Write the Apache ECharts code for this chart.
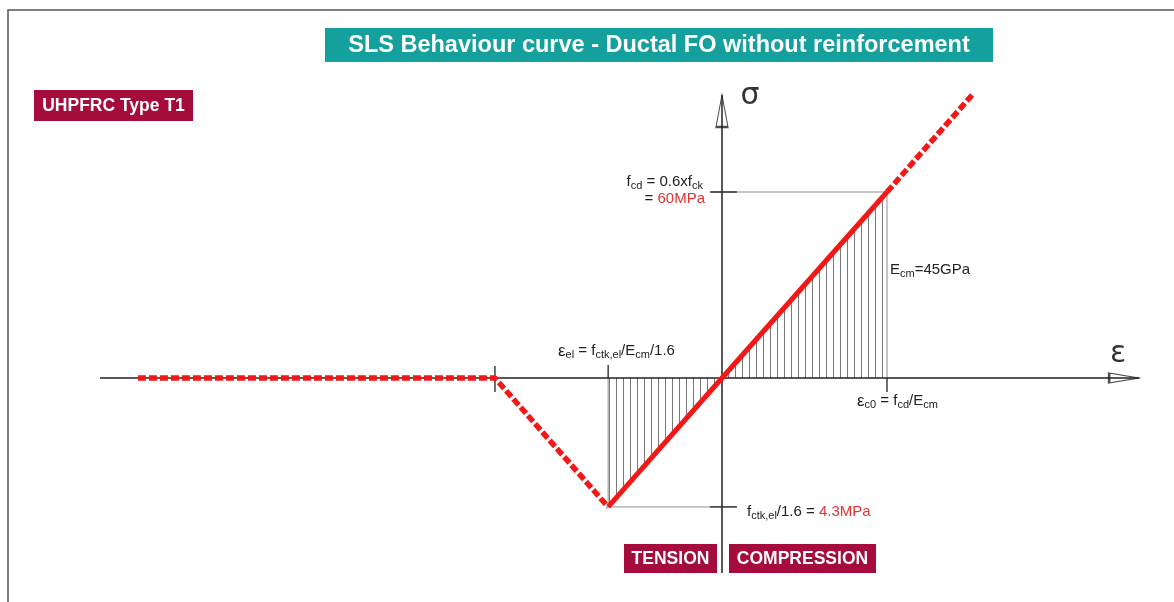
<!DOCTYPE html>
<html>
<head>
<meta charset="utf-8">
<script src="https://cdn.jsdelivr.net/npm/echarts@6/dist/echarts.min.js"></script>
<style>
  html, body { margin: 0; padding: 0; background: #fff; }
  #chart { width: 1174px; height: 602px; }
</style>
</head>
<body>
<div id="chart"></div>
<script>
// schematic curve points (not to scale): strain ε and stress σ
const strainPts = [-17.7, -6.88, -3.45, 0, 5.0, 7.58];
const stressPts = [0, 0, -41.6, 0, 60, 91.3];
// axis extents (start, arrow tip)
const strainAxis = [-18.85, 12.64];
const stressAxis = [-62.9, 91.3];
// reference levels
const fcd = 60;
const fctk = -41.6;
const epsKink = -6.88;
const epsEl = -3.45;
const epsC0 = 5.0;

const RED = '#f51616';
const GREY = '#8f8f8f';
const INK = '#222';
const CRIMSON = '#a50b3b';
const FONT = 'Liberation Sans, Arial, sans-serif';

const pt = (i) => [strainPts[i], stressPts[i]];

const hatchPattern = () => {
  const c = document.createElement('canvas');
  c.width = 7;
  c.height = 10;
  const g = c.getContext('2d');
  g.fillStyle = '#7a7a7a';
  g.fillRect(0, 0, 1, 10);
  return c;
};
const hatch = { image: hatchPattern(), repeat: 'repeat' };

const seg = (data, color, width, type, extra) => Object.assign({
  type: 'line',
  data,
  showSymbol: false,
  silent: true,
  animation: false,
  lineStyle: { color, width, type }
}, extra || {});

// graphic text uses zrender style names (fill, not color)
const rich = {
  m: { fontSize: 15, lineHeight: 18, fontFamily: FONT, fill: INK },
  e: { fontSize: 17, lineHeight: 18, fontFamily: FONT, fill: INK },
  s: { fontSize: 11, lineHeight: 8, verticalAlign: 'bottom', fontFamily: FONT, fill: INK },
  r: { fontSize: 15, lineHeight: 18, fontFamily: FONT, fill: '#e63232' }
};

const label = (x, y, text, align) => ({
  type: 'text',
  x, y,
  silent: true,
  style: { text, rich, align: align || 'left', verticalAlign: 'middle', font: '15px ' + FONT, fill: INK }
});

const box = (x, y, w, h, fill, text, font) => ({
  type: 'group',
  silent: true,
  children: [
    { type: 'rect', shape: { x, y, width: w, height: h }, style: { fill } },
    {
      type: 'text', x: x + w / 2, y: y + h / 2 + 1,
      style: { text, fill: '#fff', align: 'center', verticalAlign: 'middle', font }
    }
  ]
});

const chart = echarts.init(document.getElementById('chart'));

chart.setOption({
  backgroundColor: '#fff',
  animation: false,
  grid: { left: 62, right: 23, top: 68, bottom: 7 },
  xAxis: { type: 'value', min: -20, max: 13, show: false },
  yAxis: { type: 'value', min: -70, max: 100, show: false },
  series: [
    // hatched areas
    seg([pt(2), pt(3)], GREY, 0, 'solid', { areaStyle: { color: hatch, opacity: 1 } }),
    seg([pt(3), pt(4)], GREY, 0, 'solid', { areaStyle: { color: hatch, opacity: 1 } }),
    // grey guide lines
    seg([[epsEl, 0], [epsEl, fctk]], GREY, 1, 'solid'),
    seg([[epsC0, 0], [epsC0, fcd]], GREY, 1, 'solid'),
    seg([[0.45, fcd], [epsC0, fcd]], GREY, 1, 'solid'),
    seg([[epsEl, fctk], [0.45, fctk]], GREY, 1, 'solid'),
    // axes
    seg([[strainAxis[0], 0], [strainAxis[1], 0]], INK, 1.5, 'solid'),
    seg([[0, stressAxis[0]], [0, stressAxis[1]]], INK, 1.5, 'solid'),
    // ticks
    seg([[-0.36, fcd], [0.45, fcd]], INK, 1.3, 'solid'),
    seg([[-0.36, fctk], [0.45, fctk]], INK, 1.3, 'solid'),
    seg([[epsKink, 3.9], [epsKink, -4.5]], INK, 1.3, 'solid'),
    seg([[epsEl, 4.2], [epsEl, 0]], INK, 1.3, 'solid'),
    seg([[epsC0, 0], [epsC0, -4.5]], INK, 1.3, 'solid'),
    // behaviour curve
    seg([pt(0), pt(1), pt(2)], RED, 5.5, [8, 3]),
    seg([pt(2), pt(3), pt(4)], RED, 5, 'solid'),
    seg([pt(4), pt(5)], RED, 5.5, [8, 3]),
    // arrow heads
    {
      type: 'scatter',
      silent: true,
      animation: false,
      data: [
        { value: [0, stressAxis[1]], symbolSize: [12, 32], symbolOffset: [0, 16] },
        { value: [strainAxis[1], 0], symbolSize: [10, 30], symbolRotate: -90, symbolOffset: [-15, 0] }
      ],
      symbol: 'triangle',
      itemStyle: { color: '#fff', borderColor: INK, borderWidth: 1.5 }
    }
  ],
  graphic: [
    { type: 'rect', silent: true, shape: { x: 8, y: 10, width: 1200, height: 640 }, style: { fill: 'none', stroke: '#555', lineWidth: 1.5 } },
    box(325, 28, 668, 34, '#14a19d', 'SLS Behaviour curve - Ductal FO without reinforcement', 'bold 23.5px ' + FONT),
    box(34, 90, 159, 31, CRIMSON, 'UHPFRC Type T1', 'bold 17.5px ' + FONT),
    box(624, 544, 93, 29, CRIMSON, 'TENSION', 'bold 17.5px ' + FONT),
    box(729, 544, 147, 29, CRIMSON, 'COMPRESSION', 'bold 17.5px ' + FONT),
    { type: 'text', x: 750, y: 96, silent: true, style: { text: 'σ', fill: '#333', align: 'center', verticalAlign: 'middle', font: '30px DejaVu Sans, sans-serif' } },
    { type: 'text', x: 1118, y: 354, silent: true, style: { text: 'ε', fill: '#333', align: 'center', verticalAlign: 'middle', font: '30px DejaVu Sans, sans-serif' } },
    label(703, 182, '{m|f}{s|cd}{m| = 0.6xf}{s|ck}', 'right'),
    label(705, 199, '{m|= }{r|60MPa}', 'right'),
    label(890, 270, '{m|E}{s|cm}{m|=45GPa}'),
    label(558, 351, '{e|ε}{s|el}{m| = f}{s|ctk,el}{m|/E}{s|cm}{m|/1.6}'),
    label(857, 401, '{e|ε}{s|c0}{m| = f}{s|cd}{m|/E}{s|cm}'),
    label(747, 512, '{m|f}{s|ctk,el}{m|/1.6 = }{r|4.3MPa}')
  ]
});
</script>
</body>
</html>
